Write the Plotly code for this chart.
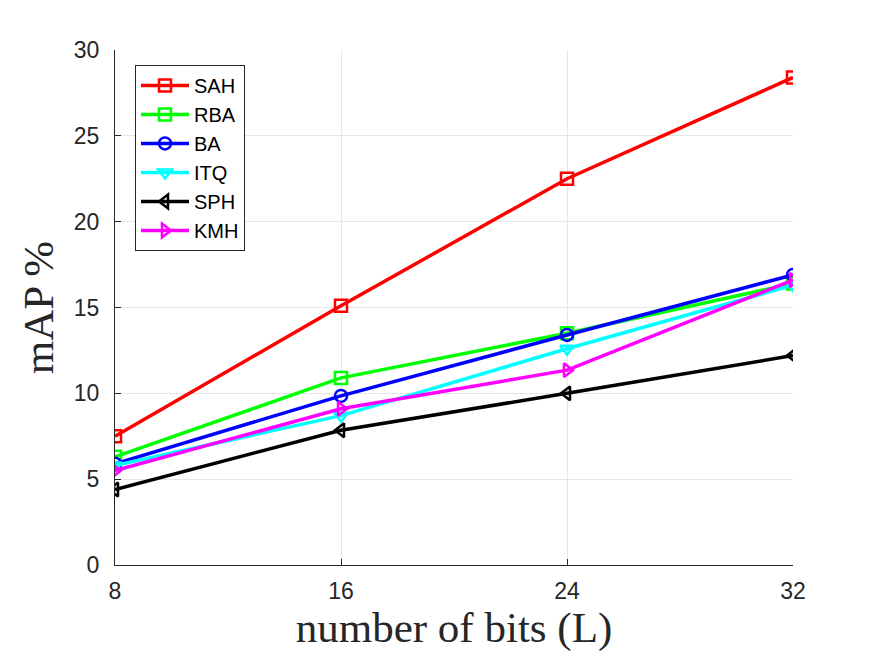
import plotly.graph_objects as go

bits = [8, 16, 24, 32]
names = ["SAH", "RBA", "BA", "ITQ", "SPH", "KMH"]
SAH = [7.5, 15.1, 22.5, 28.4]
RBA = [6.3, 10.9, 13.5, 16.4]
BA = [5.9, 9.85, 13.4, 16.9]
ITQ = [5.8, 8.7, 12.6, 16.3]
SPH = [4.4, 7.85, 10.0, 12.2]
KMH = [5.5, 9.1, 11.35, 16.6]
series = [SAH, RBA, BA, ITQ, SPH, KMH]
colors = ["#ff0000", "#00ff00", "#0000ff", "#00ffff", "#000000", "#ff00ff"]
symbols = ["square-open", "square-open", "circle-open", "triangle-down-open",
           "triangle-left-open", "triangle-right-open"]
xticks = [8, 16, 24, 32]
yticks = [0, 5, 10, 15, 20, 25, 30]

fig = go.Figure()
for n, s, c, m in zip(names, series, colors, symbols):
    fig.add_trace(go.Scatter(
        x=bits, y=s, name=n, mode="lines+markers",
        line=dict(color=c, width=3.5),
        marker=dict(symbol=m, size=12, color=c, line=dict(width=2.5, color=c)),
    ))

axis_common = dict(
    showgrid=True, gridcolor="#e6e6e6", gridwidth=1,
    showline=True, linecolor="#262626", linewidth=1,
    ticks="inside", ticklen=6, tickcolor="#262626",
    tickfont=dict(family="Liberation Sans, Arial", size=23, color="#262626"),
    zeroline=False, mirror=False,
)
title_font = dict(family="Liberation Serif, serif", size=43, color="#262626")
fig.update_xaxes(range=[8, 32], tickvals=xticks, ticklabelstandoff=5, **axis_common,
                 title=dict(text="number of bits (L)", font=title_font, standoff=2))
fig.update_yaxes(range=[0, 30], tickvals=yticks, ticklabelstandoff=10, **axis_common,
                 title=dict(text="mAP %", font=title_font, standoff=6))
fig.update_layout(
    width=875, height=657,
    margin=dict(l=115, r=82, t=50, b=92),
    plot_bgcolor="white", paper_bgcolor="white",
    legend=dict(x=0.0295, y=0.971, xanchor="left", yanchor="top",
                bgcolor="white", bordercolor="#262626", borderwidth=1,
                font=dict(family="Liberation Sans, Arial", size=20, color="#000000"),
                itemwidth=48, tracegroupgap=0),
)
fig.write_html("out.html")
